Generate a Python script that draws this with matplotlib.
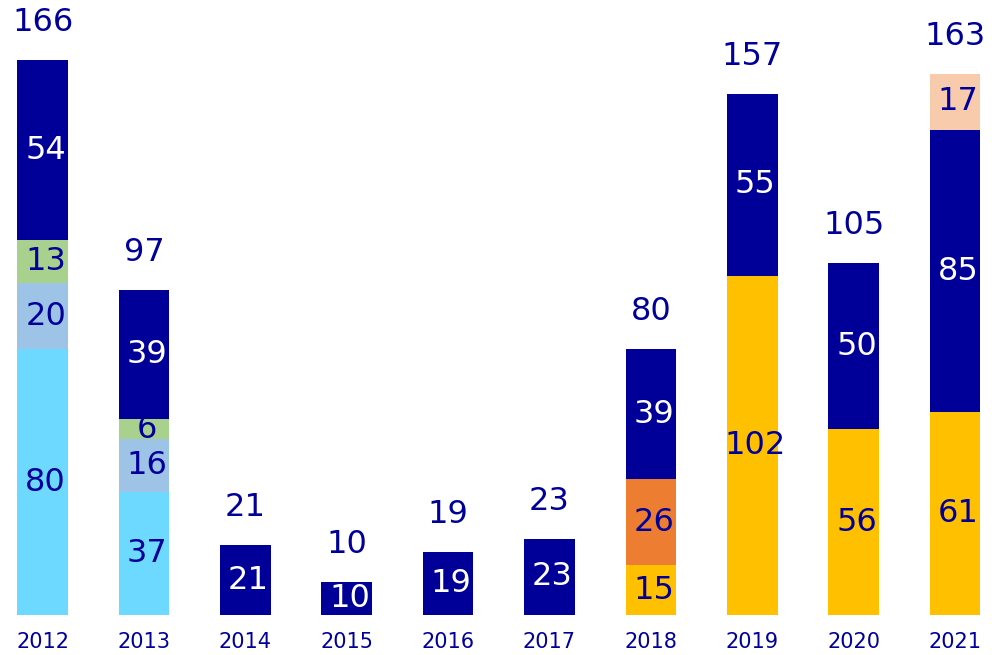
import matplotlib
matplotlib.use("Agg")
import matplotlib.pyplot as plt

years = ["2012", "2013", "2014", "2015", "2016", "2017", "2018", "2019", "2020", "2021"]
totals = [166, 97, 21, 10, 19, 23, 80, 157, 105, 163]

# stacked series, bottom to top
cyan      = [80, 37, 0, 0, 0, 0, 0, 0, 0, 0]
lightblue = [20, 16, 0, 0, 0, 0, 0, 0, 0, 0]
green     = [13, 6, 0, 0, 0, 0, 0, 0, 0, 0]
yellow    = [0, 0, 0, 0, 0, 0, 15, 102, 56, 61]
orange    = [0, 0, 0, 0, 0, 0, 26, 0, 0, 0]
darkblue  = [54, 39, 21, 10, 19, 23, 39, 55, 50, 85]
peach     = [0, 0, 0, 0, 0, 0, 0, 0, 0, 17]

series = [cyan, lightblue, green, yellow, orange, darkblue, peach]
colors = ["#6DD9FF", "#9DC3E6", "#A9D18E", "#FFC000", "#ED7D31", "#000099", "#F8CBAD"]
text_colors = ["#000099", "#000099", "#000099", "#000099", "#000099", "white", "#000099"]

plt.rcParams["font.family"] = ["DejaVu Sans"]

fig = plt.figure(figsize=(9.92, 6.55), dpi=100)
ax = fig.add_axes([0, 40 / 655, 1, 615 / 655])

x = list(range(len(years)))
bottom = [0] * len(years)
for vals, col, tc in zip(series, colors, text_colors):
    ax.bar(x, vals, width=0.5, bottom=bottom, color=col, edgecolor="none")
    for i, v in enumerate(vals):
        if v > 0:
            ax.text(i + 0.03, bottom[i] + v / 2, str(v), ha="center", va="center",
                    fontsize=23, color=tc)
    bottom = [b + v for b, v in zip(bottom, vals)]

for i, t in enumerate(totals):
    ax.annotate(str(t), (i, bottom[i]), xytext=(0, 27), textcoords="offset points",
                ha="center", va="center", fontsize=23, color="#000099")

ax.set_xlim(-0.42, 9.365)
ax.set_ylim(0, 185.2)
ax.set_xticks(x)
ax.set_xticklabels(years, fontsize=15, color="#000099")
ax.tick_params(axis="x", length=0, pad=12)
ax.set_yticks([])
for s in ax.spines.values():
    s.set_visible(False)

fig.savefig("out.png", dpi=100)
